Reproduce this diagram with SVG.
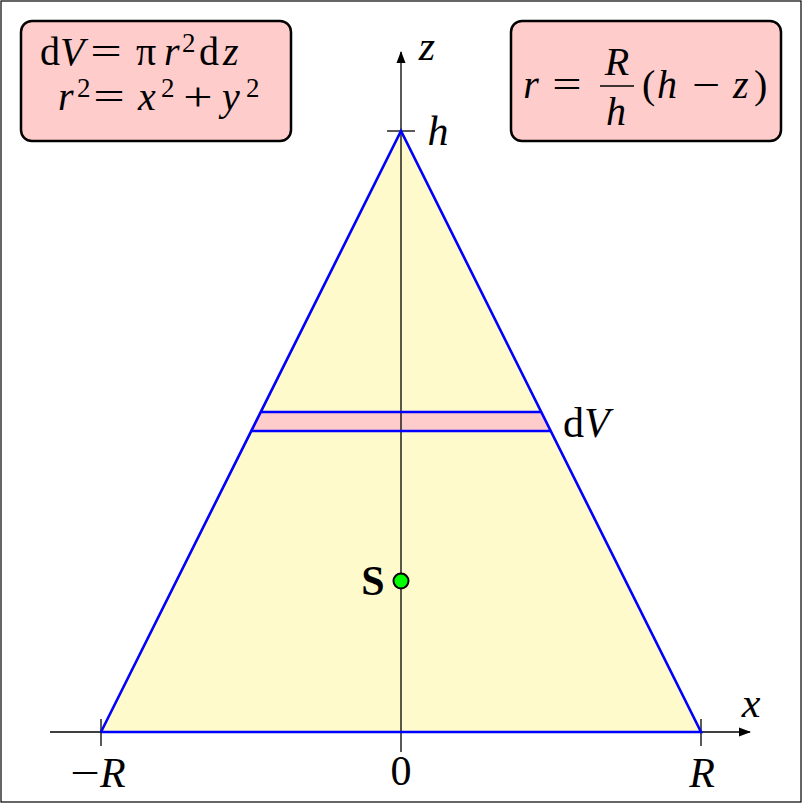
<svg xmlns="http://www.w3.org/2000/svg" width="802" height="803" viewBox="0 0 802 803">
<defs>
<style>
.t{font-family:"Liberation Serif","Times New Roman",serif;font-size:42px;fill:#000}
.b{font-size:40px}
.i{font-style:italic}
.sup{font-size:27px}
.m{text-anchor:middle}
.ax{stroke:#000;stroke-width:1.3;fill:none}
.box{fill:#ffcccc;stroke:#000;stroke-width:2.5}
.blue{stroke:#0000ff;stroke-width:2.6;fill:none}
</style>
<marker id="arr" viewBox="0 0 12 10" refX="11" refY="5" markerWidth="12" markerHeight="10" markerUnits="userSpaceOnUse" orient="auto">
<path d="M0,0.5 L12,5 L0,9.5 Z" fill="#000"/>
</marker>
</defs>
<rect x="0" y="0" width="802" height="803" fill="#fff"/>
<rect x="1" y="1" width="800" height="801" fill="none" stroke="#000" stroke-width="1.2"/>
<g id="cone">
<polygon points="401,131 101,732 701,732" fill="#fffacc"/>
<polygon points="260.7,412 541.3,412 551.3,431 250.7,431" fill="#ffcccc"/>
</g>
<g id="connectors">
<line class="ax" x1="50" y1="732" x2="750" y2="732" marker-end="url(#arr)"/>
<line class="ax" x1="401" y1="752" x2="401" y2="52" marker-end="url(#arr)"/>
<line class="ax" x1="101" y1="719" x2="101" y2="746"/>
<line class="ax" x1="701" y1="719" x2="701" y2="746"/>
<line class="ax" x1="387" y1="131" x2="415" y2="131"/>
</g>
<g id="outline">
<polyline class="blue" points="101,732 401,131 701,732 101,732"/>
<line class="blue" x1="260.7" y1="412" x2="541.3" y2="412"/>
<line class="blue" x1="250.7" y1="431" x2="551.3" y2="431"/>
</g>
<g id="S">
<circle cx="401" cy="581" r="7.5" fill="#00ff00" stroke="#000" stroke-width="2"/>
<text class="t m" x="373" y="595" font-weight="bold">S</text>
</g>
<g id="labels">
<text class="t i m" x="751" y="717">x</text>
<text class="t i m" x="427" y="60">z</text>
<text class="t i m" x="438" y="145">h</text>
<text class="t" x="563" y="437">d<tspan class="i" x="584">V</tspan></text>
<text class="t m" transform="translate(85,787) scale(1.25,1)">−</text>
<text class="t i" x="100" y="787">R</text>
<text class="t m" x="401" y="785">0</text>
<text class="t i m" x="702" y="787">R</text>
</g>
<g id="box1">
<rect class="box" x="21" y="21" width="270" height="120" rx="11"/>
<text class="t b" y="65"><tspan x="40">d</tspan><tspan class="i" x="60">V</tspan><tspan x="136">π</tspan><tspan class="i" x="164">r</tspan><tspan class="sup" x="182" y="52">2</tspan><tspan x="199" y="65">d</tspan><tspan class="i" x="223">z</tspan></text>
<text class="t b m" transform="translate(106,65) scale(1.4,1)">=</text>
<text class="t b" y="110"><tspan class="i" x="58">r</tspan><tspan class="sup" x="77" y="97">2</tspan><tspan class="i" x="138" y="110">x</tspan><tspan class="sup" x="161" y="97">2</tspan><tspan class="i" x="222" y="110">y</tspan><tspan class="sup" x="246" y="97">2</tspan></text>
<text class="t b m" transform="translate(109,110) scale(1.4,1)">=</text>
<text class="t b m" transform="translate(198,110) scale(1.3,1)">+</text>
</g>
<g id="box2">
<rect class="box" x="511" y="21" width="270" height="120" rx="11"/>
<text class="t b i m" x="531" y="98">r</text>
<text class="t b m" transform="translate(567,98) scale(1.3,1)">=</text>
<text class="t b i m" x="617" y="75">R</text>
<line x1="600" y1="86" x2="634" y2="86" stroke="#000" stroke-width="1.6"/>
<text class="t b i m" x="616" y="125">h</text>
<text class="t b" y="98"><tspan x="642">(</tspan><tspan class="i" x="657">h</tspan><tspan class="i" x="733">z</tspan><tspan x="754">)</tspan></text>
<text class="t b m" transform="translate(706,98) scale(1.25,1)">−</text>
</g>
</svg>
